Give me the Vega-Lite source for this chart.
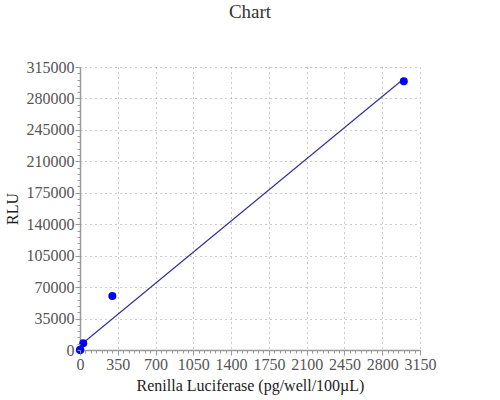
{
  "$schema": "https://vega.github.io/schema/vega-lite/v6.json",
  "width": 340,
  "height": 283,
  "autosize": "none",
  "padding": {"left": 80, "top": 67, "right": 80, "bottom": 50},
  "background": "white",
  "title": {
    "text": "Chart",
    "font": "'Liberation Serif', serif",
    "fontSize": 19,
    "fontWeight": "normal",
    "color": "#333",
    "anchor": "middle",
    "offset": 37
  },
  "config": {
    "font": "'Liberation Serif', serif",
    "view": {"stroke": null},
    "axis": {
      "labelFont": "'Liberation Serif', serif",
      "labelFontSize": 16,
      "labelColor": "#555",
      "labelOverlap": false,
      "labelFlush": false,
      "titleFont": "'Liberation Serif', serif",
      "titleFontSize": 16,
      "titleFontWeight": "normal",
      "titleColor": "#222",
      "domainColor": "#999",
      "domainWidth": 1.5,
      "tickColor": "#999",
      "tickSize": 5,
      "gridColor": "#999",
      "gridDash": [1, 4],
      "gridWidth": 1
    }
  },
  "datasets": {
    "pts": [
      {"pg": 0, "rlu": 0},
      {"pg": 3, "rlu": 300},
      {"pg": 30, "rlu": 7500},
      {"pg": 300, "rlu": 60000},
      {"pg": 3000, "rlu": 299000}
    ],
    "fit": [
      {"pg": 0, "rlu": 5000},
      {"pg": 3000, "rlu": 302000}
    ]
  },
  "layer": [
    {
      "data": {"name": "fit"},
      "mark": {"type": "line", "color": "#33339a", "strokeWidth": 1.2},
      "encoding": {
        "x": {
          "field": "pg", "type": "quantitative",
          "scale": {"domain": [0, 3150], "nice": false},
          "axis": {
            "orient": "bottom", "title": "Renilla Luciferase (pg/well/100µL)", "format": "d", "grid": true,
            "values": [0,350,700,1050,1400,1750,2100,2450,2800,3150],
            "labelPadding": 1, "titlePadding": 5
          }
        },
        "y": {
          "field": "rlu", "type": "quantitative",
          "scale": {"domain": [0, 315000], "nice": false},
          "axis": {
            "orient": "left", "title": "RLU", "format": "d", "grid": true,
            "values": [0,35000,70000,105000,140000,175000,210000,245000,280000,315000],
            "labelPadding": 1, "titlePadding": 6
          }
        }
      }
    },
    {
      "data": {"name": "pts"},
      "mark": {"type": "point", "opacity": 0},
      "encoding": {
        "x": {
          "field": "pg", "type": "quantitative",
          "axis": {
            "orient": "bottom", "title": null, "labels": false, "grid": false, "domain": false, "ticks": true, "tickSize": 3, "tickColor": "#999", "zindex": 2,
            "values": [0,50,100,150,200,250,300,350,400,450,500,550,600,650,700,750,800,850,900,950,1000,1050,1100,1150,1200,1250,1300,1350,1400,1450,1500,1550,1600,1650,1700,1750,1800,1850,1900,1950,2000,2050,2100,2150,2200,2250,2300,2350,2400,2450,2500,2550,2600,2650,2700,2750,2800,2850,2900,2950,3000,3050,3100,3150]
          }
        },
        "y": {
          "field": "rlu", "type": "quantitative",
          "axis": {
            "orient": "left", "title": null, "labels": false, "grid": false, "domain": false, "ticks": true, "tickSize": 3, "tickColor": "#999", "zindex": 2,
            "values": [0,7000,14000,21000,28000,35000,42000,49000,56000,63000,70000,77000,84000,91000,98000,105000,112000,119000,126000,133000,140000,147000,154000,161000,168000,175000,182000,189000,196000,203000,210000,217000,224000,231000,238000,245000,252000,259000,266000,273000,280000,287000,294000,301000,308000,315000]
          }
        }
      }
    },
    {
      "data": {"name": "pts"},
      "mark": {"type": "circle", "color": "#0000ff", "opacity": 1, "size": 64},
      "encoding": {
        "x": {"field": "pg", "type": "quantitative", "axis": null},
        "y": {"field": "rlu", "type": "quantitative", "axis": null}
      }
    }
  ],
  "resolve": {"axis": {"x": "independent", "y": "independent"}}
}
